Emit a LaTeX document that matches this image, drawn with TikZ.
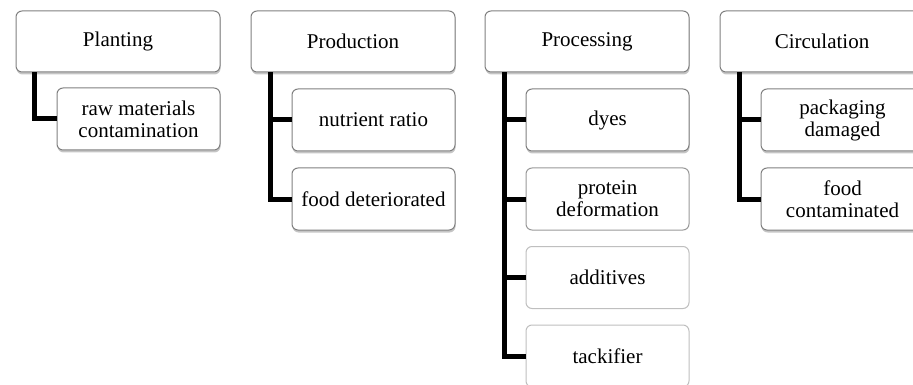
\documentclass[tikz,border=0pt]{standalone}
\usepackage{fontspec}
\setmainfont{Liberation Serif}
\usetikzlibrary{shadows}
\begin{document}
\begin{tikzpicture}[x=1pt,y=-1pt,
  box/.style={draw=black!50, line width=1pt, rounded corners=6pt, fill=white,
    align=center, inner sep=0pt, font=\fontsize{21}{22}\selectfont,
    drop shadow={shadow xshift=0.5pt, shadow yshift=-2.5pt, opacity=0.5, fill=black!45}},
  topbox/.style={box, minimum width=204pt, minimum height=61pt},
  kid/.style={box, minimum width=163pt, minimum height=62pt},
  kidpale/.style={draw=black!40, line width=1pt, rounded corners=6pt, fill=white,
    align=center, inner sep=0pt, font=\fontsize{21}{22}\selectfont,
    minimum width=163pt, minimum height=62pt},
  kidlight/.style={kidpale, draw=black!25},
  link/.style={line width=5pt, black}]
\useasboundingbox (0,0) rectangle (913,385);
\begin{scope}
\clip (0,0) rectangle (913,385);
% top boxes
\node[topbox] (pl) at (118,41.5) {Planting};
\node[topbox] (pr) at (353,41.5) {Production};
\node[topbox] (pc) at (587,41.5) {Processing};
\node[topbox] (ci) at (822,41.5) {Circulation};
% children
\node[kid] (raw) at (138.5,119) {raw materials\\contamination};
\node[kid] (nut) at (373.5,120) {nutrient ratio};
\node[kid] (det) at (373.5,199) {food deteriorated};
\node[kid] (dye) at (607.5,120) {dyes};
\node[kidpale] (pro) at (607.5,199) {protein\\deformation};
\node[kidlight] (add) at (607.5,277.5) {additives};
\node[kidlight] (tac) at (607.5,356) {tackifier};
\node[kid] (pack) at (842.5,120) {packaging\\damaged};
\node[kid] (con) at (842.5,199) {food\\contaminated};
% connectors
\draw[link] ([xshift=19pt]pl.south west) |- (raw.west);
\draw[link] ([xshift=20pt]pr.south west) |- (det.west);
\draw[link] ([xshift=20pt]pr.south west) |- (nut.west);
\draw[link] ([xshift=20pt]pc.south west) |- (tac.west);
\draw[link] ([xshift=20pt]pc.south west) |- (add.west);
\draw[link] ([xshift=20pt]pc.south west) |- (pro.west);
\draw[link] ([xshift=20pt]pc.south west) |- (dye.west);
\draw[link] ([xshift=20pt]ci.south west) |- (con.west);
\draw[link] ([xshift=20pt]ci.south west) |- (pack.west);
\end{scope}
\end{tikzpicture}
\end{document}
